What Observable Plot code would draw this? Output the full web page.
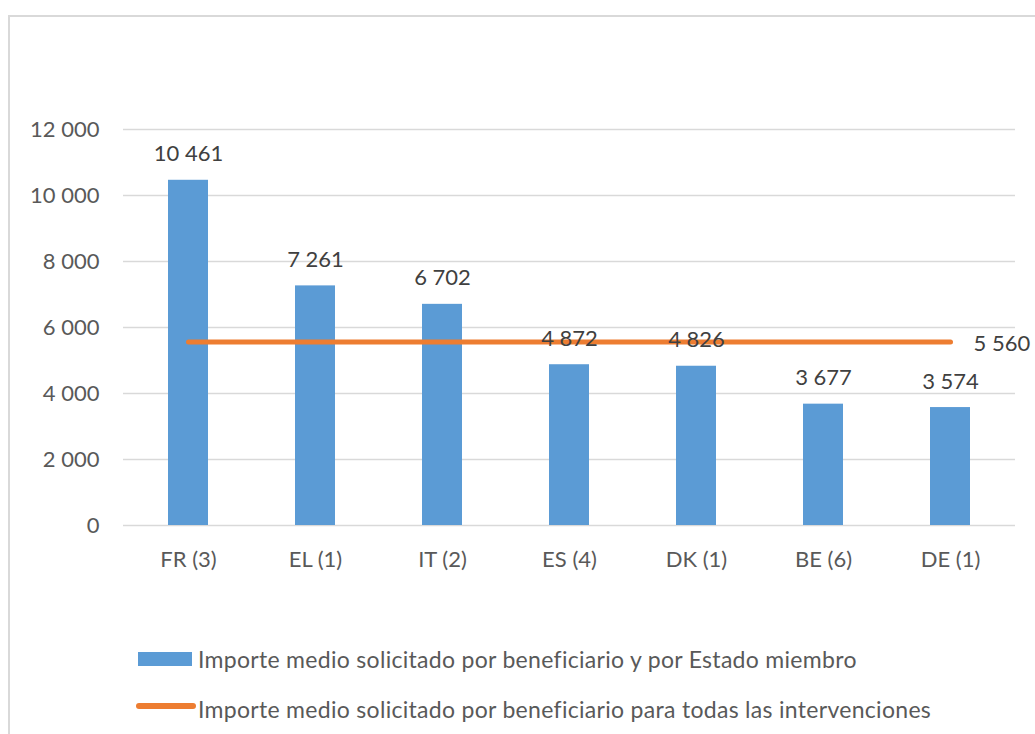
<!DOCTYPE html>
<html>
<head>
<meta charset="utf-8">
<script src="https://cdn.jsdelivr.net/npm/d3@7"></script>
<script src="https://cdn.jsdelivr.net/npm/@observablehq/plot@0.6"></script>
<style>
  html, body { margin: 0; padding: 0; background: #fff; }
  body { width: 1035px; height: 734px; position: relative; overflow: hidden; font-family: Lato, "Open Sans", sans-serif; }
  #frame { position: absolute; left: 8px; top: 15px; width: 1100px; height: 800px; border-left: 2px solid #d9d9d9; border-top: 2px solid #d9d9d9; box-sizing: border-box; }
  #chart { position: absolute; left: 0; top: 0; }
  .legend { position: absolute; left: 0; top: 0; width: 1035px; }
  .row { position: absolute; left: 0; height: 30px; width: 1035px; font-size: 23px; letter-spacing: 0.3px; color: #595959; white-space: nowrap; }
  .swatch-bar { position: absolute; left: 138px; width: 54px; height: 14px; background: #5B9BD5; }
  .swatch-line { position: absolute; left: 136px; width: 60px; height: 6px; border-radius: 3px; background: #ED7D31; }
  .label { position: absolute; left: 198px; top: 0; line-height: 30px; }
</style>
</head>
<body>
<div id="frame"></div>
<div id="chart"></div>
<div class="legend">
  <div class="row" id="row1" style="top:644px"><div class="swatch-bar" style="top:8px"></div><div class="label" id="lab1"></div></div>
  <div class="row" id="row2" style="top:692px"><div class="swatch-line" style="top:11px"></div><div class="label" id="lab2" style="top:2px"></div></div>
</div>
<script>
const categories = ["FR (3)", "EL (1)", "IT (2)", "ES (4)", "DK (1)", "BE (6)", "DE (1)"];
const values = [10461, 7261, 6702, 4872, 4826, 3677, 3574];
const overallAverage = 5560;
const yTicks = [0, 2000, 4000, 6000, 8000, 10000, 12000];
const seriesNames = [
  "Importe medio solicitado por beneficiario y por Estado miembro",
  "Importe medio solicitado por beneficiario para todas las intervenciones"
];

document.getElementById("lab1").textContent = seriesNames[0];
document.getElementById("lab2").textContent = seriesNames[1];

const fmt = v => d3.format(",")(v).replace(/,/g, " ");
const bars = categories.map((c, i) => ({cat: c, value: values[i]}));
const avg = categories.map(c => ({cat: c, value: overallAverage}));
const last = categories[categories.length - 1];

const chart = Plot.plot({
  width: 1035,
  height: 620,
  marginLeft: 123,
  marginRight: 20,
  marginTop: 129,
  marginBottom: 95,
  style: {fontFamily: "Lato, 'Open Sans', sans-serif", fontSize: "22px", color: "#595959", background: "transparent", overflow: "visible"},
  x: {domain: categories, paddingInner: 0.686, paddingOuter: 0.343, label: null, tickSize: 0, tickPadding: 26},
  y: {domain: [0, 12000], ticks: yTicks, tickFormat: fmt, label: null, tickSize: 0, tickPadding: 24},
  marks: [
    Plot.ruleY(yTicks, {stroke: "#d9d9d9", strokeWidth: 1.5}),
    Plot.barY(bars, {x: "cat", y: "value", fill: "#5B9BD5"}),
    Plot.lineY(avg, {x: "cat", y: "value", stroke: "#ED7D31", strokeWidth: 5, strokeLinecap: "round"}),
    Plot.text(bars, {x: "cat", y: "value", text: d => fmt(d.value), dy: -26, fill: "#404040", fontSize: 22}),
    Plot.text([{cat: last, value: overallAverage}], {x: "cat", y: "value", text: d => fmt(d.value), dx: 23, dy: 2, textAnchor: "start", fill: "#404040", fontSize: 22})
  ]
});
document.getElementById("chart").appendChild(chart);
</script>
</body>
</html>
